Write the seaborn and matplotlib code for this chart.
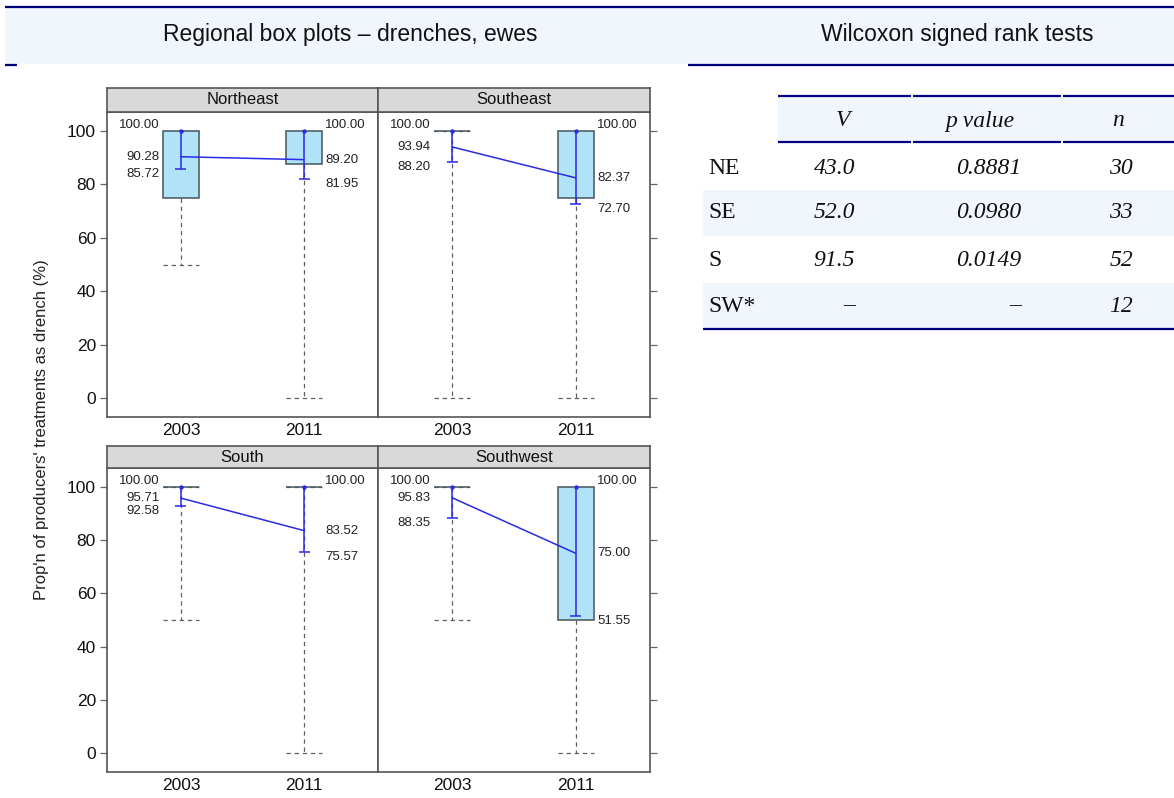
import numpy as np
import pandas as pd
import matplotlib
matplotlib.use("Agg")
import matplotlib.pyplot as plt
from matplotlib.patches import Rectangle
import seaborn as sns

# ---------------- data ----------------
regions = ["Northeast", "Southeast", "South", "Southwest"]
years = ["2003", "2011"]
q1 = [[75.0, 87.5], [100.0, 75.0], [100.0, 100.0], [100.0, 50.0]]
q3 = [[100.0, 100.0], [100.0, 100.0], [100.0, 100.0], [100.0, 100.0]]
medians = [[100.0, 100.0], [100.0, 100.0], [100.0, 100.0], [100.0, 100.0]]
whisker_low = [[50.0, 0.0], [0.0, 0.0], [50.0, 0.0], [50.0, 0.0]]
whisker_high = [[100.0, 100.0], [100.0, 100.0], [100.0, 100.0], [100.0, 100.0]]
means = [[90.28, 89.20], [93.94, 82.37], [95.71, 83.52], [95.83, 75.00]]
ci_low = [[85.72, 81.95], [88.20, 72.70], [92.58, 75.57], [88.35, 51.55]]
ci_high = [[100.0, 100.0], [100.0, 100.0], [100.0, 100.0], [100.0, 100.0]]
y_ticks = [0, 20, 40, 60, 80, 100]
y_label = "Prop'n of producers' treatments as drench (%)"

left_title = "Regional box plots \u2013 drenches, ewes"
right_title = "Wilcoxon signed rank tests"
table_cols = ["V", "p value", "n"]
table_rows = ["NE", "SE", "S", "SW*"]
wilcox_V = ["43.0", "52.0", "91.5", "\u2013"]
wilcox_p = ["0.8881", "0.0980", "0.0149", "\u2013"]
wilcox_n = ["30", "33", "52", "12"]

# ---------------- style ----------------
sns.set_theme(style="white")
plt.rcParams["font.family"] = ["Liberation Sans", "DejaVu Sans"]

W, H = 1174, 798
fig = plt.figure(figsize=(W / 100, H / 100), dpi=100)
fig.patch.set_facecolor("white")

NAVY = "#000080"
BAND = "#f1f5fc"
BOXFILL = "#b0e2f8"
BOXEDGE = "#46545f"
WHISK = "#606060"
BLUE = "#2a2ae6"
FRAME = "#555555"


def frac_rect(x0, y0, x1, y1):
    return [x0 / W, 1 - y1 / H, (x1 - x0) / W, (y1 - y0) / H]


# overlay axes in pixel coordinates for header / table
ov = fig.add_axes([0, 0, 1, 1], zorder=0)
ov.set_xlim(0, W)
ov.set_ylim(H, 0)
ov.axis("off")

# header band + lines
ov.add_patch(Rectangle((5, 7), W - 5, 57, facecolor=BAND, edgecolor="none"))
ov.plot([5, W], [6.5, 6.5], color=NAVY, lw=1.6, solid_capstyle="butt")
ov.plot([5, 17], [65, 65], color=NAVY, lw=1.6, solid_capstyle="butt")
ov.plot([688, W], [65, 65], color=NAVY, lw=1.6, solid_capstyle="butt")
ov.text(350, 35, left_title, ha="center", va="center", fontsize=16.5, color="#111111")
ov.text(957, 35, right_title, ha="center", va="center", fontsize=16.5, color="#111111")

# table
serif = ["Liberation Serif", "DejaVu Serif"]
TFS = 17
col_x = [855, 1021, 1133]
head_x = [843, 980, 1118]
segs = [(778, 911), (913, 1061), (1063, W)]
ov.add_patch(Rectangle((778, 96), W - 778, 46, facecolor=BAND, edgecolor="none"))
for a, b in segs:
    ov.plot([a, b], [96, 96], color=NAVY, lw=1.6, solid_capstyle="butt")
    ov.plot([a, b], [142, 142], color=NAVY, lw=1.6, solid_capstyle="butt")
for hx, name in zip(head_x, table_cols):
    ov.text(hx, 121, name, ha="center", va="center", fontsize=TFS, style="italic",
            family=serif, color="#111111")
row_y = [168, 213, 260, 306]
for i, (ry, rn) in enumerate(zip(row_y, table_rows)):
    if i % 2 == 1:
        ov.add_patch(Rectangle((703, ry - 23), W - 703, 46, facecolor=BAND, edgecolor="none"))
    ov.text(708, ry, rn, ha="left", va="center", fontsize=TFS, family=serif, color="#111111")
    for cx, vals in zip(col_x, [wilcox_V, wilcox_p, wilcox_n]):
        ov.text(cx, ry, vals[i], ha="right", va="center", fontsize=TFS, style="italic",
                family=serif, color="#111111")
ov.plot([703, W], [329, 329], color=NAVY, lw=1.6, solid_capstyle="butt")

# ---------------- panels ----------------
panel_px = [
    (107, 378, 112, 417, 88),
    (378, 650, 112, 417, 88),
    (107, 378, 468, 772, 446),
    (378, 650, 468, 772, 446),
]
BW = 0.29
pos = [0, 1]

for k, region in enumerate(regions):
    x0, x1, y0, y1, sy = panel_px[k]
    ax = fig.add_axes(frac_rect(x0, y0, x1, y1), zorder=2)
    ax.set_facecolor("white")
    stats = []
    for j in range(2):
        stats.append(dict(med=medians[k][j], q1=q1[k][j], q3=q3[k][j],
                          whislo=whisker_low[k][j], whishi=whisker_high[k][j],
                          fliers=[], label=years[j]))
    ax.bxp(stats, positions=pos, widths=BW, capwidths=BW, patch_artist=True,
           showcaps=True, showfliers=False,
           boxprops=dict(facecolor=BOXFILL, edgecolor=BOXEDGE, linewidth=1.1, zorder=3),
           whiskerprops=dict(color=WHISK, linewidth=0.9, linestyle=(0, (3.5, 3)), zorder=2),
           capprops=dict(color=WHISK, linewidth=0.9, linestyle=(0, (3.5, 3)), zorder=2),
           medianprops=dict(linewidth=0))

    df = pd.DataFrame({"x": pos, "mean": means[k]})
    sns.lineplot(data=df, x="x", y="mean", ax=ax, color=BLUE, lw=1.1, zorder=5,
                 estimator=None, sort=False)
    m = np.array(means[k])
    lo = np.array(ci_low[k])
    hi = np.array(ci_high[k])
    ax.vlines(pos, lo, hi, color=BLUE, lw=1.1, zorder=5)
    ax.hlines(lo, np.array(pos) - 0.045, np.array(pos) + 0.045, color=BLUE, lw=1.1, zorder=5)
    ax.scatter(pos, hi, s=10, color=BLUE, zorder=6, linewidths=0)

    # value labels
    for j in range(2):
        if j == 0:
            xo, ha, xt = -2.5, "right", pos[j] - BW / 2
        else:
            xo, ha, xt = 2.5, "left", pos[j] + BW / 2
        ax.annotate(f"{hi[j]:.2f}", (xt, hi[j]), xytext=(xo, 4.3), textcoords="offset points",
                    ha=ha, va="center", fontsize=9.5, color="#222222", zorder=6)
        ax.annotate(f"{m[j]:.2f}", (xt, m[j]), xytext=(xo, 0), textcoords="offset points",
                    ha=ha, va="center", fontsize=9.5, color="#222222", zorder=6)
        ax.annotate(f"{lo[j]:.2f}", (xt, lo[j]), xytext=(xo, -3.6), textcoords="offset points",
                    ha=ha, va="center", fontsize=9.5, color="#222222", zorder=6)

    ax.set_xlim(-0.6, 1.6)
    ax.set_ylim(-7, 107)
    ax.set_xticks(pos)
    ax.set_xticklabels(years, fontsize=12.5, color="#111111")
    ax.tick_params(axis="x", length=0, pad=4)
    ax.set_yticks(y_ticks)
    if k % 2 == 0:
        ax.set_yticklabels([str(t) for t in y_ticks], fontsize=12.5, color="#111111")
        ax.tick_params(axis="y", left=True, right=False, length=5, width=0.9,
                       color="#666666", direction="out", pad=3)
    else:
        ax.yaxis.tick_right()
        ax.tick_params(axis="y", left=False, right=True, labelright=False, labelleft=False,
                       length=5, width=0.9, color="#666666", direction="out")
    ax.set_xlabel("")
    ax.set_ylabel("")
    for sp in ax.spines.values():
        sp.set_color(FRAME)
        sp.set_linewidth(1.2)
        sp.set_visible(True)

    # strip
    sax = fig.add_axes(frac_rect(x0, sy, x1, y0), zorder=2)
    sax.set_facecolor("#d9d9d9")
    sax.set_xticks([])
    sax.set_yticks([])
    for sp in sax.spines.values():
        sp.set_color(FRAME)
        sp.set_linewidth(1.2)
    sax.text(0.5, 0.5, region, ha="center", va="center", fontsize=12,
             color="#111111", transform=sax.transAxes)

fig.text(42 / W, 1 - 430 / H, y_label, rotation=90, ha="center", va="center",
         fontsize=12, color="#222222")

fig.savefig("out.png", dpi=100, facecolor="white")
